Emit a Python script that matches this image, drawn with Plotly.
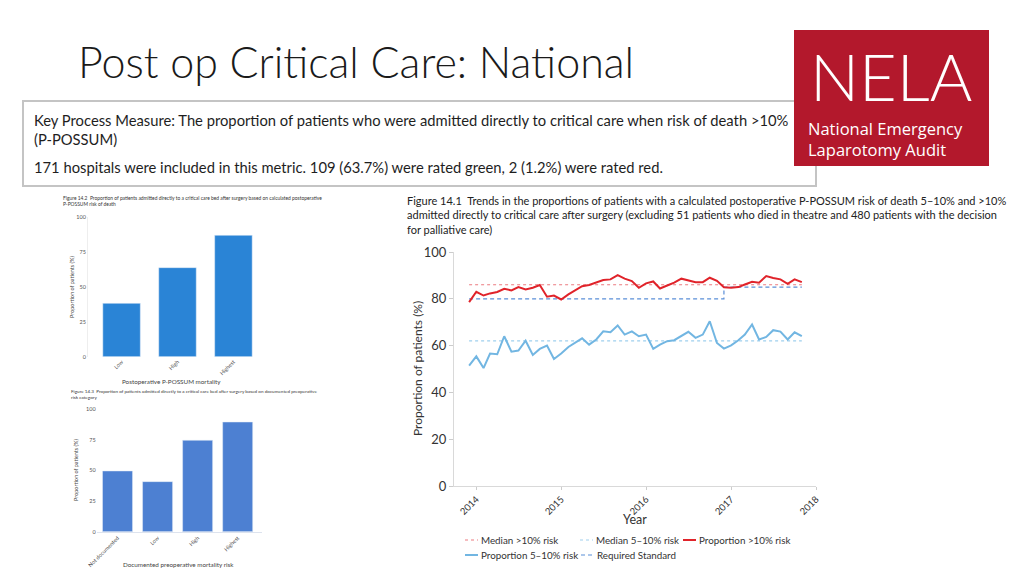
import pandas as pd
import plotly.graph_objects as go

# ---------------- data ----------------
months = pd.date_range("2013-12-01", periods=48, freq="MS")
prop_gt10 = [78.6, 83.0, 81.4, 82.3, 82.9, 84.3, 83.6, 85.0, 84.0, 84.7, 85.9, 80.9,
             81.4, 79.7, 81.9, 83.7, 85.4, 85.9, 87.1, 88.0, 88.3, 90.1, 88.6, 87.6,
             84.7, 86.6, 87.4, 84.4, 85.7, 86.9, 88.6, 88.0, 87.1, 87.1, 89.0, 87.7,
             84.9, 84.7, 85.0, 86.1, 87.3, 86.9, 89.7, 88.9, 88.3, 86.4, 88.3, 87.1]
prop_5_10 = [51.4, 55.4, 50.4, 56.6, 56.3, 64.0, 57.4, 57.9, 62.1, 56.0, 58.6, 60.0,
             54.3, 56.6, 59.4, 61.1, 63.1, 60.4, 62.6, 66.1, 65.7, 68.6, 64.7, 66.1,
             64.0, 64.7, 58.6, 60.4, 61.9, 62.3, 64.3, 65.9, 63.3, 64.7, 70.4, 61.1,
             58.7, 60.1, 62.3, 64.7, 69.0, 62.6, 63.7, 66.6, 66.0, 62.6, 65.7, 64.0]
median_gt10 = 86
median_5_10 = 62
standard_dates = ["2013-12-01", "2016-12-01", "2017-11-01"]
standard_values = [80, 85, 85]
year_ticks = ["2014-01-01", "2015-01-01", "2016-01-01", "2017-01-01", "2018-01-01"]
year_labels = ["2014", "2015", "2016", "2017", "2018"]

pp_categories = ["Low", "High", "Highest"]
pp_values = [38.1, 63.6, 86.7]
doc_categories = ["Not documented", "Low", "High", "Highest"]
doc_values = [49.5, 40.8, 74.5, 89.4]

# page has an 8px body margin: size the figure so it fills the 1024x576 window
OFF = 8
W, H = 1024 - OFF, 576 - OFF
def px(x): return (x - OFF) / W
def py(y): return 1 - (y - OFF) / H

FONT = "Lato"
fig = go.Figure()

# ---------------- main line chart ----------------
styles = {
    "Median >10% risk": dict(color="#ec7b80", width=1.2, dash="dot"),
    "Median 5–10% risk": dict(color="#9fd0ee", width=1.2, dash="dot"),
    "Required Standard": dict(color="#5b8fd8", width=1.2, dash="4px,3px"),
    "Proportion >10% risk": dict(color="#e0232a", width=2),
    "Proportion 5–10% risk": dict(color="#72b6e2", width=2),
}
first, last = months[0], months[-1]
fig.add_trace(go.Scatter(x=[first, last], y=[median_gt10, median_gt10], mode="lines",
                         name="Median >10% risk", line=styles["Median >10% risk"], xaxis="x", yaxis="y"))
fig.add_trace(go.Scatter(x=[first, last], y=[median_5_10, median_5_10], mode="lines",
                         name="Median 5–10% risk", line=styles["Median 5–10% risk"], xaxis="x", yaxis="y"))
fig.add_trace(go.Scatter(x=standard_dates, y=standard_values, mode="lines", line_shape="hv",
                         name="Required Standard", line=styles["Required Standard"], xaxis="x", yaxis="y"))
fig.add_trace(go.Scatter(x=months, y=prop_gt10, mode="lines",
                         name="Proportion >10% risk", line=styles["Proportion >10% risk"], xaxis="x", yaxis="y"))
fig.add_trace(go.Scatter(x=months, y=prop_5_10, mode="lines",
                         name="Proportion 5–10% risk", line=styles["Proportion 5–10% risk"], xaxis="x", yaxis="y"))

# ---------------- bar charts ----------------
fig.add_trace(go.Bar(x=pp_categories, y=pp_values, marker_color="#2a84d6", width=0.67,
                     xaxis="x2", yaxis="y2"))
fig.add_trace(go.Bar(x=doc_categories, y=doc_values, marker_color="#4d80d2", width=0.75,
                     xaxis="x3", yaxis="y3"))

axis_common = dict(showgrid=False, zeroline=False, automargin=False)

fig.update_layout(
    width=W, height=H, margin=dict(l=0, r=0, t=0, b=0, autoexpand=False),
    paper_bgcolor="white", plot_bgcolor="white", showlegend=False,
    font=dict(family=FONT, color="#333333"),
    xaxis=dict(domain=[px(454), px(816)], anchor="y", type="date",
               range=["2013-09-27", "2018-01-01"], tickvals=year_ticks, ticktext=year_labels,
               tickangle=-45, tickfont=dict(size=9.5, color="#333"), ticks="outside", ticklen=3,
               tickcolor="#cccccc", showline=True, linecolor="#d9d9d9", linewidth=1, **axis_common),
    yaxis=dict(domain=[py(486), py(252)], anchor="x", range=[0, 100], tickvals=[0, 20, 40, 60, 80, 100],
               tickfont=dict(size=13, color="#333"), ticks="outside", ticklen=4, tickcolor="#cccccc",
               showline=True, linecolor="#d9d9d9", linewidth=1, **axis_common),
    xaxis2=dict(domain=[px(88), px(267)], anchor="y2", range=[-0.6, 2.6], tickangle=-45,
                tickfont=dict(size=5.5, color="#555"), showline=False, ticks="", **axis_common),
    yaxis2=dict(domain=[py(356.7), py(216.7)], anchor="x2", range=[0, 100], tickvals=[0, 25, 50, 75, 100],
                tickfont=dict(size=5.5, color="#555"), showline=True, linecolor="#eeeeee", **axis_common),
    xaxis3=dict(domain=[px(96.7), px(261.7)], anchor="y3", range=[-0.52, 3.6], tickangle=-45,
                tickfont=dict(size=5.5, color="#555"), showline=True, linecolor="#dde3ee", ticks="",
                **axis_common),
    yaxis3=dict(domain=[py(531.7), py(409)], anchor="x3", range=[0, 100], tickvals=[0, 25, 50, 75, 100],
                tickfont=dict(size=5.5, color="#555"), showline=False, **axis_common),
)

shapes = []
ann = []
def text(x, y, s, size, color="#222", xanchor="left", yanchor="middle", family=FONT, angle=0, weight=None, align="left"):
    f = dict(size=size, color=color, family=family)
    if weight:
        f["weight"] = weight
    ann.append(dict(x=px(x), y=py(y), xref="paper", yref="paper", text=s, showarrow=False,
                    xanchor=xanchor, yanchor=yanchor, font=f, textangle=angle, align=align))

# key process measure box
shapes.append(dict(type="rect", xref="paper", yref="paper", x0=px(23), x1=px(816), y0=py(186), y1=py(101),
                   line=dict(color="#c4c4c4", width=2), fillcolor="rgba(0,0,0,0)", layer="below"))
# NELA logo block
shapes.append(dict(type="rect", xref="paper", yref="paper", x0=px(794), x1=px(989), y0=py(166), y1=py(30),
                   line=dict(width=0), fillcolor="#b3182c", layer="above"))

# legend (drawn with short symbols like the reference)
legend_layout = [("Median >10% risk", 465, 540), ("Median 5–10% risk", 580, 540),
                 ("Proportion >10% risk", 683, 540), ("Proportion 5–10% risk", 465, 555),
                 ("Required Standard", 581, 555)]
for name, lx, ly in legend_layout:
    st = dict(styles[name])
    shapes.append(dict(type="line", xref="paper", yref="paper", x0=px(lx), x1=px(lx + 13),
                       y0=py(ly), y1=py(ly), line=st))
    text(lx + 14, ly, name, 9.8, color="#333")

fig.update_layout(shapes=shapes)

# slide title
text(76, 62, "Post op Critical Care: National", 43, color="#1a1a1a", weight=300)
# box text
text(32, 120, "Key Process Measure: The proportion of patients who were admitted directly to critical care when risk of death >10%", 14.75, color="#1e1e1e")
text(32, 139, "(P-POSSUM)", 14.75, color="#1e1e1e")
text(32, 167, "171 hospitals were included in this metric. 109 (63.7%) were rated green, 2 (1.2%) were rated red.", 14.75, color="#1e1e1e")
# logo text
text(891, 76, "NELA", 65, color="white", xanchor="center", weight=300)
text(806, 139, "National Emergency<br>Laparotomy Audit", 16.5, color="white", family="Open Sans")

# main chart title
text(405, 215, "Figure 14.1  Trends in the proportions of patients with a calculated postoperative P-POSSUM risk of death 5–10% and >10%<br>"
               "admitted directly to critical care after surgery (excluding 51 patients who died in theatre and 480 patients with the decision<br>"
               "for palliative care)", 11.0, color="#222")
text(635, 519, "Year", 12.5, color="#333", xanchor="center")
text(417, 369, "Proportion of patients (%)", 12, color="#333", xanchor="center", angle=-90)

# small chart 1
text(61, 201, "Figure 14.2  Proportion of patients admitted directly to a critical care bed after surgery based on calculated postoperative<br>"
              "P-POSSUM risk of death", 4.9, color="#333")
text(72, 287, "Proportion of patients (%)", 5.5, color="#444", xanchor="center", angle=-90)
text(171, 381, "Postoperative P-POSSUM mortality", 6.3, color="#444", xanchor="center")
# small chart 2
text(69, 394, "Figure 14.3  Proportion of patients admitted directly to a critical care bed after surgery based on documented preoperative<br>"
              "risk category", 4.6, color="#333")
text(76, 470, "Proportion of patients (%)", 5.5, color="#444", xanchor="center", angle=-90)
text(178, 564, "Documented preoperative mortality risk", 6.3, color="#444", xanchor="center")

fig.update_layout(annotations=ann)
fig.write_html("out.html")
